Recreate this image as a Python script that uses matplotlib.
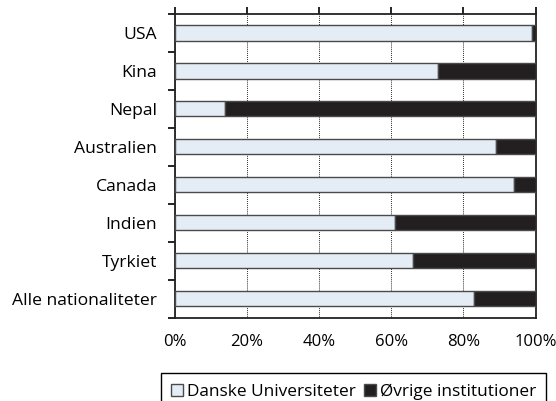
import matplotlib
matplotlib.use("Agg")
import matplotlib.pyplot as plt
import numpy as np

plt.rcParams['font.family'] = ['Open Sans', 'DejaVu Sans']

# andel pr. nationalitet (%)
lande = ['USA', 'Kina', 'Nepal', 'Australien', 'Canada', 'Indien', 'Tyrkiet', 'Alle nationaliteter']
danske_uni = [99, 73, 14, 89, 94, 61, 66, 83]
oevrige = [1, 27, 86, 11, 6, 39, 34, 17]

lys = '#e4edf5'
moerk = '#231f20'
kant = '#4a4a4a'
fs = 12

fig = plt.figure(figsize=(5.56, 4.01), dpi=100)
ax = fig.add_axes([0.3147, 0.2082, 0.6485, 0.7568])

y = np.arange(len(lande))
h = 0.4
ax.barh(y, danske_uni, height=h, color=lys, edgecolor=kant, linewidth=1.0,
        label='Danske Universiteter', zorder=3)
ax.barh(y, oevrige, left=danske_uni, height=h, color=moerk, edgecolor=kant,
        linewidth=1.0, label='Øvrige institutioner', zorder=3)

ax.set_xlim(0, 100)
ax.set_ylim(len(lande) - 0.5, -0.5)
ax.set_xticks(np.arange(0, 101, 20))
ax.set_xticklabels([f'{v}%' for v in range(0, 101, 20)])
ax.xaxis.grid(True, linestyle=(0, (0.8, 1.2)), color='black', linewidth=0.7, zorder=0)

# y-aksen: labels midt i hver kategori, tick-streger mellem kategorier
ax.set_yticks(y)
ax.set_yticklabels(lande)
ax.set_yticks(np.arange(-0.5, len(lande)), minor=True)
ax.tick_params(axis='y', which='major', length=0, pad=13, labelsize=12.6)
ax.tick_params(axis='y', which='minor', length=5, width=1.2, direction='out')
ax.tick_params(axis='x', which='major', top=True, bottom=False, labeltop=False,
               labelbottom=True, length=5, width=1.2, direction='out',
               pad=7, labelsize=fs)

for s in ax.spines.values():
    s.set_color('#222222')
    s.set_linewidth(1.3)

fig.legend(loc='upper left', bbox_to_anchor=(161 / 556, 1 - 373 / 401), ncol=2,
           frameon=True, fancybox=False, edgecolor='black', fontsize=12.4,
           handlelength=0.7, handleheight=0.7, handletextpad=0.2,
           columnspacing=0.5, borderpad=0.6, borderaxespad=0,
           framealpha=1).get_frame().set_linewidth(1.0)

fig.savefig('out.png', dpi=100)
